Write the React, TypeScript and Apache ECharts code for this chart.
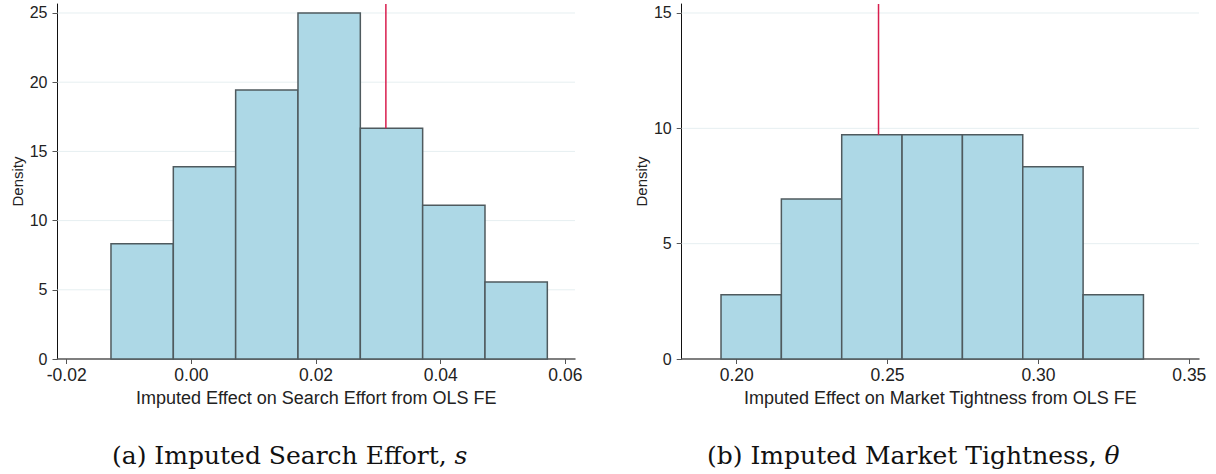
import React, { useEffect, useRef } from "react";
import * as echarts from "echarts";

// ---- Data ----
const searchEdges = [-0.0129, -0.0029, 0.0071, 0.0171, 0.0271, 0.0371, 0.0471, 0.0571];
const searchDensity = [8.33, 13.89, 19.44, 25.0, 16.67, 11.11, 5.56];
const searchRef = 0.0312;
const searchXTicks = [-0.02, 0, 0.02, 0.04, 0.06];
const searchYTicks = [0, 5, 10, 15, 20, 25];

const tightEdges = [0.1948, 0.2148, 0.2348, 0.2548, 0.2748, 0.2948, 0.3148, 0.3348];
const tightDensity = [2.78, 6.94, 9.72, 9.72, 9.72, 8.33, 2.78];
const tightRef = 0.247;
const tightXTicks = [0.2, 0.25, 0.3, 0.35];
const tightYTicks = [0, 5, 10, 15];

const searchTitle = "Imputed Effect on Search Effort from OLS FE";
const tightTitle = "Imputed Effect on Market Tightness from OLS FE";
const yName = "Density";

// ---- Styling / layout ----
const SANS = "'Liberation Sans', Arial, Helvetica, sans-serif";
const SERIF = "'DejaVu Serif', 'Liberation Serif', serif";
const BAR_FILL = "#add8e6";
const BAR_STROKE = "#4f5a5e";
const GRID_COLOR = "#e6eff1";
const REF_COLOR = "#d81e4e";

const panels = [
  {
    edges: searchEdges,
    dens: searchDensity,
    ref: searchRef,
    xTicks: searchXTicks,
    yTicks: searchYTicks,
    xMin: -0.02148,
    xMax: 0.06154,
    yMax: 25.65,
    title: searchTitle,
    grid: { left: 57.5, top: 4, width: 517.5, height: 355 },
  },
  {
    edges: tightEdges,
    dens: tightDensity,
    ref: tightRef,
    xTicks: tightXTicks,
    yTicks: tightYTicks,
    xMin: 0.18177,
    xMax: 0.35321,
    yMax: 15.39,
    title: tightTitle,
    grid: { left: 681.7, top: 4, width: 517.3, height: 355 },
  },
];

function heightAt(edges: number[], dens: number[], x: number) {
  for (let i = 0; i < dens.length; i++) {
    if (x >= edges[i] && x < edges[i + 1]) return dens[i];
  }
  return 0;
}

function buildOption() {
  const grid: any[] = [];
  const xAxis: any[] = [];
  const yAxis: any[] = [];
  const series: any[] = [];

  panels.forEach((p, i) => {
    grid.push({ ...p.grid, containLabel: false });
    xAxis.push({
      gridIndex: i,
      type: "value",
      min: p.xMin,
      max: p.xMax,
      axisLine: { show: true, onZero: false, lineStyle: { color: "#555", width: 1.5 } },
      axisTick: { show: true, customValues: p.xTicks, length: 5, lineStyle: { color: "#555", width: 1 } },
      axisLabel: {
        customValues: p.xTicks,
        formatter: (v: number) => v.toFixed(2),
        fontSize: 17.5,
        color: "#222",
        margin: 7,
        fontFamily: SANS,
      },
      splitLine: { show: false },
      name: p.title,
      nameLocation: "middle",
      nameGap: 28,
      nameTextStyle: { fontSize: 18, color: "#222", fontFamily: SANS },
    });
    yAxis.push({
      gridIndex: i,
      type: "value",
      min: 0,
      max: p.yMax,
      axisLine: { show: true, onZero: false, lineStyle: { color: "#111", width: 1 } },
      axisTick: { show: true, customValues: p.yTicks, length: 5, lineStyle: { color: "#555", width: 1 } },
      axisLabel: {
        customValues: p.yTicks,
        formatter: (v: number) => String(v),
        fontSize: 16,
        color: "#222",
        margin: 10,
        fontFamily: SANS,
      },
      splitLine: { show: false },
      name: yName,
      nameLocation: "middle",
      nameGap: 33,
      nameTextStyle: { fontSize: 15, color: "#222", fontFamily: SANS },
    });

    // grid lines (behind bars)
    series.push({
      type: "custom",
      xAxisIndex: i,
      yAxisIndex: i,
      z: 1,
      silent: true,
      encode: { x: 0, y: 1 },
      data: p.yTicks.filter((v) => v > 0).map((v) => [p.xMin, v]),
      renderItem: (params: any, api: any) => {
        const cs = params.coordSys;
        const y = api.coord([api.value(0), api.value(1)])[1];
        return {
          type: "line",
          shape: { x1: cs.x, y1: y, x2: cs.x + cs.width, y2: y },
          style: { stroke: GRID_COLOR, lineWidth: 1 },
        };
      },
    });

    // histogram bars
    series.push({
      type: "custom",
      xAxisIndex: i,
      yAxisIndex: i,
      z: 2,
      encode: { x: [0, 1], y: 2 },
      data: p.dens.map((d, k) => [p.edges[k], p.edges[k + 1], d]),
      renderItem: (params: any, api: any) => {
        const p0 = api.coord([api.value(0), api.value(2)]);
        const p1 = api.coord([api.value(1), 0]);
        return {
          type: "rect",
          shape: { x: p0[0], y: p0[1], width: p1[0] - p0[0], height: p1[1] - p0[1] },
          style: { fill: BAR_FILL, stroke: BAR_STROKE, lineWidth: 1.5 },
        };
      },
    });

    // reference line
    series.push({
      type: "line",
      xAxisIndex: i,
      yAxisIndex: i,
      z: 3,
      symbol: "none",
      silent: true,
      lineStyle: { color: REF_COLOR, width: 1.5 },
      data: [
        [p.ref, p.yMax],
        [p.ref, heightAt(p.edges, p.dens, p.ref)],
      ],
    });
  });

  const graphic = [
    {
      type: "text",
      left: 112,
      top: 443,
      style: {
        text: "(a) Imputed Search Effort, {i|s}",
        font: `25px ${SERIF}`,
        fill: "#111",
        rich: { i: { fontStyle: "italic", fontSize: 25, fontFamily: SERIF, fill: "#111" } },
      },
    },
    {
      type: "text",
      left: 707,
      top: 443,
      style: {
        text: "(b) Imputed Market Tightness, {i|θ}",
        font: `25px ${SERIF}`,
        fill: "#111",
        rich: { i: { fontStyle: "italic", fontSize: 25, fontFamily: SERIF, fill: "#111" } },
      },
    },
  ];

  return {
    animation: false,
    backgroundColor: "#fff",
    grid,
    xAxis,
    yAxis,
    series,
    graphic,
  };
}

export default function App() {
  const ref = useRef<HTMLDivElement>(null);
  useEffect(() => {
    if (!ref.current) return;
    const chart = echarts.init(ref.current, undefined, { renderer: "svg" });
    chart.setOption(buildOption() as any);
    return () => chart.dispose();
  }, []);
  return (
    <div
      ref={ref}
      style={{ position: "fixed", left: 0, top: 0, width: 1216, height: 474 }}
    />
  );
}
